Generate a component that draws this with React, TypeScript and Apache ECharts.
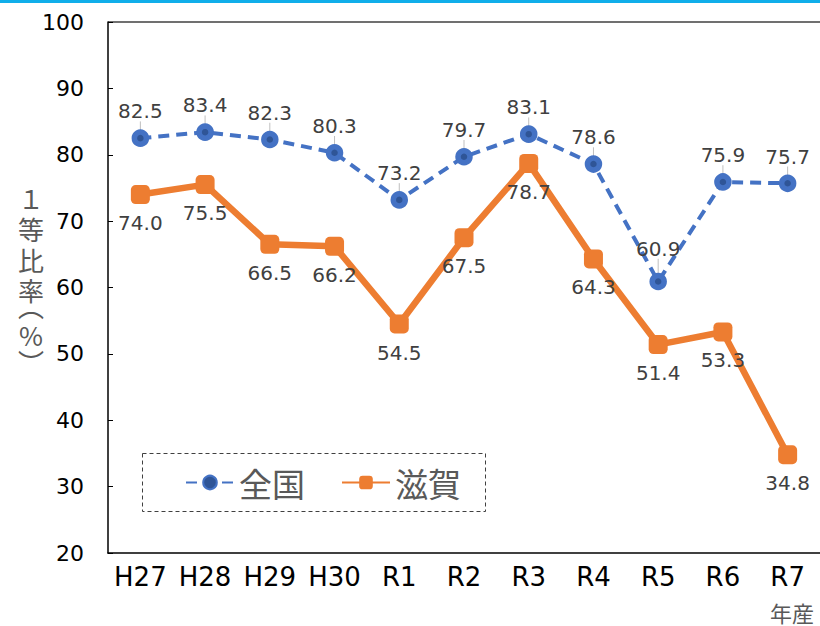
import React, { useEffect, useRef } from "react";
import * as echarts from "echarts";

const categories = ["H27", "H28", "H29", "H30", "R1", "R2", "R3", "R4", "R5", "R6", "R7"];
const zenkoku = [82.5, 83.4, 82.3, 80.3, 73.2, 79.7, 83.1, 78.6, 60.9, 75.9, 75.7];
const shiga = [74.0, 75.5, 66.5, 66.2, 54.5, 67.5, 78.7, 64.3, 51.4, 53.3, 34.8];
const seriesNames = ["全国", "滋賀"];
const yAxisTitle = ["１", "等", "比", "率", "︵", "%", "︶"];
const yAxisTitleY = [197, 228, 259, 289, 305, 334, 361];
const xAxisTitle = "年産";

const CJK = "'Noto Sans CJK JP', sans-serif";
const NUM = "'DejaVu Sans', 'Noto Sans', sans-serif";

export default function App() {
  const ref = useRef<HTMLDivElement>(null);
  useEffect(() => {
    const chart = echarts.init(ref.current!, null, { renderer: "svg" });
    chart.setOption({
      animation: false,
      backgroundColor: "#ffffff",
      textStyle: { fontFamily: NUM },
      grid: { left: 108, top: 22, width: 715, bottom: 73, containLabel: false },
      legend: {
        left: 180,
        top: 461,
        itemWidth: 48,
        itemHeight: 17,
        itemGap: 36,
        textStyle: { fontSize: 33, color: "#595959", fontFamily: CJK },
        data: seriesNames,
      },
      xAxis: {
        type: "category",
        data: categories,
        boundaryGap: true,
        axisLine: { lineStyle: { color: "#000", width: 1.5 } },
        axisTick: { inside: true, length: 7, lineStyle: { color: "#000" } },
        axisLabel: { interval: 0, fontSize: 26, color: "#000", margin: 11, fontFamily: NUM },
      },
      yAxis: {
        type: "value",
        min: 20,
        max: 100,
        interval: 10,
        splitLine: { show: false },
        axisLine: { show: true, lineStyle: { color: "#000", width: 1.5 } },
        axisTick: { show: true, inside: true, length: 5, lineStyle: { color: "#000" } },
        axisLabel: { fontSize: 22, color: "#000", margin: 24, fontFamily: NUM },
      },
      series: [
        {
          name: seriesNames[0],
          type: "line",
          data: zenkoku,
          z: 3,
          symbol: "circle",
          symbolSize: 12,
          itemStyle: { color: "#2F5597", borderColor: "#4472C4", borderWidth: 5.5 },
          lineStyle: { color: "#4472C4", width: 4, type: [11, 7] },
          label: {
            show: true,
            position: "top",
            distance: 8,
            fontSize: 20,
            color: "#404040",
            fontFamily: NUM,
            formatter: (p: any) => p.value.toFixed(1),
          },
          labelLayout: (p: any) => (p.dataIndex === 8 ? { dy: -6 } : {}),
          labelLine: { show: true, lineStyle: { color: "#bfbfbf", width: 1 } },
        },
        {
          name: seriesNames[1],
          type: "line",
          data: shiga,
          z: 2,
          symbol: "roundRect",
          symbolSize: 19,
          itemStyle: { color: "#ED7D31" },
          lineStyle: { color: "#ED7D31", width: 6.5 },
          label: {
            show: true,
            position: "bottom",
            distance: 9,
            fontSize: 20,
            color: "#404040",
            fontFamily: NUM,
            formatter: (p: any) => p.value.toFixed(1),
          },
        },
      ],
      graphic: [
        { type: "rect", left: 0, top: 0, shape: { width: 820, height: 3 }, style: { fill: "#10AEEA" } },
        {
          type: "line",
          shape: { x1: 108, y1: 22, x2: 820, y2: 22 },
          style: { stroke: "#404040", lineWidth: 1.5 },
        },
        {
          type: "rect",
          shape: { x: 142.5, y: 453.5, width: 343, height: 58 },
          style: { fill: "none", stroke: "#404040", lineWidth: 1, lineDash: [4, 3] },
          z: 10,
        },
        ...yAxisTitle.map((ch, i) => ({
          type: "text",
          x: 31,
          y: yAxisTitleY[i],
          style: {
            text: ch,
            fontSize: 26,
            lineHeight: 14,
            fill: "#595959",
            align: "center",
            verticalAlign: "middle",
            fontFamily: CJK,
          },
        })),
        {
          type: "text",
          x: 770,
          y: 601,
          style: { text: xAxisTitle, fontSize: 22, fill: "#595959", align: "left", fontFamily: CJK },
        },
      ],
    });
    return () => chart.dispose();
  }, []);
  return (
    <div
      ref={ref}
      style={{ position: "fixed", left: 0, top: 0, width: 820, height: 626 }}
    />
  );
}
